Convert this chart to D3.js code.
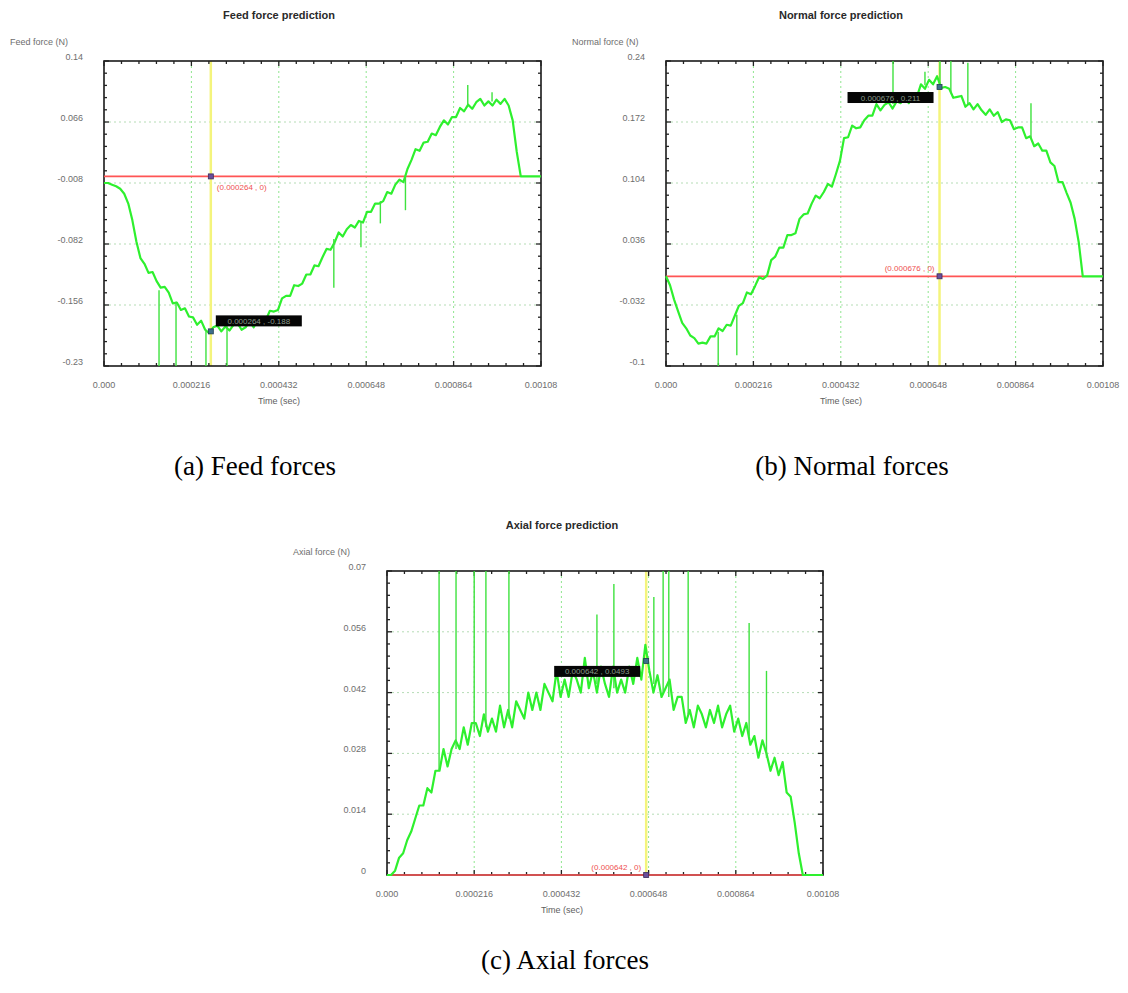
<!DOCTYPE html>
<html>
<head>
<meta charset="utf-8">
<script src="https://cdn.jsdelivr.net/npm/d3@7"></script>
<style>
body { margin: 0; background: #fff; }
svg { display: block; }
</style>
</head>
<body>
<script>
// sample times in microseconds (axis is labelled in seconds)
var timeUs = [0,10,20,30,40,50,60,70,80,90,
  100,110,120,130,140,150,160,170,180,190,
  200,210,220,230,240,250,260,270,280,290,
  300,310,320,330,340,350,360,370,380,390,
  400,410,420,430,440,450,460,470,480,490,
  500,510,520,530,540,550,560,570,580,590,
  600,610,620,630,640,650,660,670,680,690,
  700,710,720,730,740,750,760,770,780,790,
  800,810,820,830,840,850,860,870,880,890,
  900,910,920,930,940,950,960,970,980,990,
  1000,1010,1020,1030,1040,1050,1060,1070,1080];

var feedForce = [-0.008,-0.008,-0.010,-0.012,-0.015,-0.021,-0.033,-0.053,-0.079,-0.099,
  -0.106,-0.117,-0.116,-0.127,-0.135,-0.134,-0.141,-0.154,-0.153,-0.162,
  -0.160,-0.170,-0.171,-0.180,-0.175,-0.186,-0.190,-0.183,-0.181,-0.188,
  -0.182,-0.187,-0.180,-0.178,-0.186,-0.183,-0.176,-0.183,-0.174,-0.174,
  -0.174,-0.163,-0.164,-0.162,-0.148,-0.145,-0.145,-0.132,-0.133,-0.130,
  -0.119,-0.119,-0.108,-0.109,-0.098,-0.088,-0.089,-0.080,-0.068,-0.073,
  -0.064,-0.059,-0.062,-0.054,-0.056,-0.043,-0.043,-0.033,-0.033,-0.030,
  -0.019,-0.021,-0.010,-0.004,-0.007,0.009,0.020,0.033,0.031,0.041,
  0.042,0.052,0.050,0.060,0.068,0.063,0.072,0.072,0.083,0.079,
  0.087,0.082,0.090,0.094,0.086,0.091,0.086,0.093,0.088,0.094,
  0.086,0.068,0.030,0,0,0,0,0,0];

var normalForce = [0,-0.010,-0.026,-0.039,-0.052,-0.058,-0.066,-0.069,-0.075,-0.074,
  -0.075,-0.067,-0.067,-0.058,-0.061,-0.054,-0.055,-0.044,-0.033,-0.030,
  -0.018,-0.020,-0.011,-0.001,-0.003,0.001,0.018,0.022,0.032,0.032,
  0.046,0.046,0.048,0.064,0.069,0.070,0.081,0.090,0.087,0.094,
  0.103,0.100,0.114,0.129,0.154,0.155,0.168,0.165,0.166,0.174,
  0.179,0.179,0.192,0.185,0.191,0.194,0.187,0.195,0.193,0.199,
  0.193,0.202,0.200,0.214,0.209,0.219,0.214,0.223,0.210,0.211,
  0.209,0.199,0.200,0.201,0.189,0.193,0.186,0.192,0.185,0.180,
  0.186,0.179,0.183,0.172,0.175,0.174,0.164,0.166,0.166,0.154,
  0.156,0.145,0.148,0.140,0.140,0.127,0.123,0.105,0.105,0.093,
  0.082,0.064,0.038,0,0,0,0,0,0];

var axialForce = [0,0,0.001,0.004,0.005,0.008,0.010,0.013,0.016,0.016,
  0.020,0.019,0.024,0.024,0.029,0.025,0.029,0.031,0.029,0.034,
  0.030,0.035,0.035,0.032,0.037,0.033,0.036,0.033,0.039,0.034,
  0.038,0.034,0.040,0.038,0.036,0.042,0.038,0.042,0.038,0.044,
  0.042,0.040,0.047,0.041,0.045,0.041,0.047,0.045,0.042,0.050,
  0.043,0.047,0.042,0.048,0.044,0.041,0.048,0.042,0.045,0.042,
  0.048,0.044,0.050,0.045,0.053,0.047,0.042,0.046,0.041,0.043,
  0.045,0.038,0.041,0.041,0.035,0.038,0.034,0.039,0.037,0.034,
  0.038,0.035,0.039,0.034,0.037,0.039,0.033,0.036,0.032,0.035,
  0.030,0.032,0.027,0.031,0.028,0.024,0.027,0.023,0.026,0.019,
  0.018,0.012,0.005,0,0,0,0,0,0];

// single-sample spikes: [time us, from, to]
var feedSpikes = [[136,-0.138,-0.23],[178,-0.152,-0.23],[252,-0.186,-0.23],[304,-0.180,-0.23],
  [568,-0.076,-0.135],[635,-0.055,-0.086],[683,-0.030,-0.057],[745,0.000,-0.041],
  [899,0.085,0.111],[959,0.091,0.102]];
var normalSpikes = [[129,-0.062,-0.1],[175,-0.043,-0.088],[561,0.192,0.24],[640,0.213,0.228],
  [677,0.215,0.24],[704,0.204,0.24],[746,0.192,0.238],[902,0.154,0.193]];
var axialSpikes = [[129,0.024,0.07],[171,0.029,0.07],[216,0.033,0.07],[245,0.034,0.07],
  [302,0.036,0.07],[520,0.044,0.060],[562,0.043,0.067],[661,0.044,0.064],[684,0.042,0.07],
  [698,0.041,0.07],[746,0.037,0.07],[897,0.032,0.058],[940,0.027,0.047]];

var xTickValues = [0,216,432,648,864,1080];
var xTickLabels = ["0.000","0.000216","0.000432","0.000648","0.000864","0.00108"];

var feedTicks = [-0.23,-0.156,-0.082,-0.008,0.066,0.14];
var feedTickLabels = ["-0.23","-0.156","-0.082","-0.008","0.066","0.14"];
var normalTicks = [-0.1,-0.032,0.036,0.104,0.172,0.24];
var normalTickLabels = ["-0.1","-0.032","0.036","0.104","0.172","0.24"];
var axialTicks = [0,0.014,0.028,0.042,0.056,0.07];
var axialTickLabels = ["0","0.014","0.028","0.042","0.056","0.07"];

var panels = [
  {title: "Feed force prediction", ylabel: "Feed force (N)", caption: "(a) Feed forces",
   values: feedForce, spikes: feedSpikes, yTicks: feedTicks, yLabels: feedTickLabels,
   cursorT: 264, cursorV: -0.188, zeroEnd: 1028,
   zeroText: "(0.000264 , 0)", boxText: "0.000264 , -0.188", side: "right",
   left: 104, top: 61, w: 437, h: 305, capX: 255, capY: 475},
  {title: "Normal force prediction", ylabel: "Normal force (N)", caption: "(b) Normal forces",
   values: normalForce, spikes: normalSpikes, yTicks: normalTicks, yLabels: normalTickLabels,
   cursorT: 676, cursorV: 0.211, zeroEnd: 1030,
   zeroText: "(0.000676 , 0)", boxText: "0.000676 , 0.211", side: "left",
   left: 666, top: 61, w: 437, h: 305, capX: 852, capY: 475},
  {title: "Axial force prediction", ylabel: "Axial force (N)", caption: "(c) Axial forces",
   values: axialForce, spikes: axialSpikes, yTicks: axialTicks, yLabels: axialTickLabels,
   cursorT: 642, cursorV: 0.0493, zeroEnd: 1028,
   zeroText: "(0.000642 , 0)", boxText: "0.000642 , 0.0493", side: "left",
   left: 387, top: 571, w: 436, h: 304, capX: 565, capY: 969}
];

var sans = "'Liberation Sans', Arial, sans-serif";

var svg = d3.select("body").append("svg")
    .attr("width", 1128)
    .attr("height", 993);

panels.forEach(function(p) {
    var x = d3.scaleLinear().domain([0, 1080]).range([p.left, p.left + p.w]);
    var y = d3.scaleLinear()
        .domain([p.yTicks[0], p.yTicks[p.yTicks.length - 1]])
        .range([p.top + p.h, p.top]);
    var g = svg.append("g");
    var bottom = p.top + p.h, right = p.left + p.w;

    // dotted grid
    g.selectAll(".vgrid").data(xTickValues.slice(1, -1)).enter().append("line")
        .attr("x1", function(d) { return x(d); })
        .attr("x2", function(d) { return x(d); })
        .attr("y1", p.top).attr("y2", bottom)
        .attr("stroke", "#8fe68f").attr("stroke-width", 1)
        .attr("stroke-dasharray", "2,3");
    g.selectAll(".hgrid").data(p.yTicks.slice(1, -1)).enter().append("line")
        .attr("x1", p.left).attr("x2", right)
        .attr("y1", function(d) { return y(d); })
        .attr("y2", function(d) { return y(d); })
        .attr("stroke", "#b5dcb5").attr("stroke-width", 1)
        .attr("stroke-dasharray", "2,3");

    // yellow cursor line
    g.append("line")
        .attr("x1", x(p.cursorT)).attr("x2", x(p.cursorT))
        .attr("y1", p.top).attr("y2", bottom)
        .attr("stroke", "#f4f47c").attr("stroke-width", 2.5);

    // frame
    g.append("rect")
        .attr("x", p.left).attr("y", p.top)
        .attr("width", p.w).attr("height", p.h)
        .attr("fill", "none").attr("stroke", "#1a1a1a").attr("stroke-width", 1.6);

    // ticks on all four sides, 4 minor between majors
    function minors(vals) {
        var out = [];
        for (var i = 0; i < vals.length - 1; i++) {
            for (var k = 1; k < 5; k++) out.push(vals[i] + (vals[i + 1] - vals[i]) * k / 5);
        }
        return out;
    }
    var xt = xTickValues.map(function(v) { return [v, 5]; })
        .concat(minors(xTickValues).map(function(v) { return [v, 3]; }));
    var yt = p.yTicks.map(function(v) { return [v, 5]; })
        .concat(minors(p.yTicks).map(function(v) { return [v, 3]; }));
    xt.forEach(function(t) {
        g.append("line").attr("x1", x(t[0])).attr("x2", x(t[0]))
            .attr("y1", bottom).attr("y2", bottom - t[1])
            .attr("stroke", "#222").attr("stroke-width", 1.3);
        g.append("line").attr("x1", x(t[0])).attr("x2", x(t[0]))
            .attr("y1", p.top).attr("y2", p.top + t[1])
            .attr("stroke", "#222").attr("stroke-width", 1.3);
    });
    yt.forEach(function(t) {
        g.append("line").attr("x1", p.left).attr("x2", p.left + t[1])
            .attr("y1", y(t[0])).attr("y2", y(t[0]))
            .attr("stroke", "#222").attr("stroke-width", 1.3);
        g.append("line").attr("x1", right).attr("x2", right - t[1])
            .attr("y1", y(t[0])).attr("y2", y(t[0]))
            .attr("stroke", "#222").attr("stroke-width", 1.3);
    });

    // red zero line
    g.append("line")
        .attr("x1", x(0)).attr("x2", x(p.zeroEnd))
        .attr("y1", y(0)).attr("y2", y(0))
        .attr("stroke", "#ff5555").attr("stroke-width", 1.7);

    // force curve
    var line = d3.line()
        .x(function(d, i) { return x(timeUs[i]); })
        .y(function(d) { return y(d); });
    g.append("path").datum(p.values)
        .attr("d", line)
        .attr("fill", "none")
        .attr("stroke", "#2ef02e")
        .attr("stroke-width", 2.2)
        .attr("stroke-linejoin", "round");
    g.selectAll(".spike").data(p.spikes).enter().append("line")
        .attr("x1", function(d) { return x(d[0]); })
        .attr("x2", function(d) { return x(d[0]); })
        .attr("y1", function(d) { return y(d[1]); })
        .attr("y2", function(d) { return y(d[2]); })
        .attr("stroke", "#3ee23e").attr("stroke-width", 1.4);

    // cursor points
    var cx = x(p.cursorT), cy0 = y(0), cy = y(p.cursorV);
    g.append("rect").attr("x", cx - 2.5).attr("y", cy0 - 2.5).attr("width", 5).attr("height", 5)
        .attr("fill", "#6b4f9a").attr("stroke", "#3a2a5a").attr("stroke-width", 0.8);
    g.append("rect").attr("x", cx - 2.5).attr("y", cy - 2.5).attr("width", 5).attr("height", 5)
        .attr("fill", "#3d6f8a").attr("stroke", "#1f3f50").attr("stroke-width", 0.8);

    var zt = g.append("text")
        .attr("font-family", sans).attr("font-size", 8)
        .attr("fill", "#ee5050").text(p.zeroText);
    var boxW = 86, boxH = 11, bx, by;
    if (p.side === "right") {
        zt.attr("x", cx + 6).attr("y", cy0 + 14);
        bx = cx + 5; by = cy - 16;
    } else {
        zt.attr("x", cx - 5).attr("y", cy0 - 5).attr("text-anchor", "end");
        bx = cx - 6 - boxW; by = cy + 5;
    }
    g.append("rect").attr("x", bx).attr("y", by).attr("width", boxW).attr("height", boxH)
        .attr("fill", "#050505");
    g.append("text")
        .attr("x", bx + boxW / 2).attr("y", by + 8.5)
        .attr("text-anchor", "middle")
        .attr("font-family", sans).attr("font-size", 8)
        .attr("fill", "#8a9a8a").text(p.boxText);

    // tick labels
    g.selectAll(".xl").data(xTickValues).enter().append("text")
        .attr("x", function(d) { return x(d); })
        .attr("y", bottom + 22)
        .attr("text-anchor", "middle")
        .attr("font-family", sans).attr("font-size", 9)
        .attr("fill", "#6e6e6e")
        .text(function(d, i) { return xTickLabels[i]; });
    g.selectAll(".yl").data(p.yTicks).enter().append("text")
        .attr("x", p.left - 21)
        .attr("y", function(d) { return y(d) - 1; })
        .attr("text-anchor", "end")
        .attr("font-family", sans).attr("font-size", 9)
        .attr("fill", "#6e6e6e")
        .text(function(d, i) { return p.yLabels[i]; });

    // titles
    g.append("text")
        .attr("x", p.left + 175).attr("y", p.top - 42)
        .attr("text-anchor", "middle")
        .attr("font-family", sans).attr("font-size", 11).attr("font-weight", "bold")
        .attr("fill", "#2a2a2a").text(p.title);
    g.append("text")
        .attr("x", p.left - 94).attr("y", p.top - 16)
        .attr("font-family", sans).attr("font-size", 9)
        .attr("fill", "#6e6e6e").text(p.ylabel);
    g.append("text")
        .attr("x", p.left + 175).attr("y", bottom + 38)
        .attr("text-anchor", "middle")
        .attr("font-family", sans).attr("font-size", 9)
        .attr("fill", "#5e5e5e").text("Time (sec)");

    // figure caption
    svg.append("text")
        .attr("x", p.capX).attr("y", p.capY)
        .attr("text-anchor", "middle")
        .attr("font-family", "'Liberation Serif', 'Times New Roman', serif")
        .attr("font-size", 27)
        .attr("fill", "#000").text(p.caption);
});
</script>
</body>
</html>
